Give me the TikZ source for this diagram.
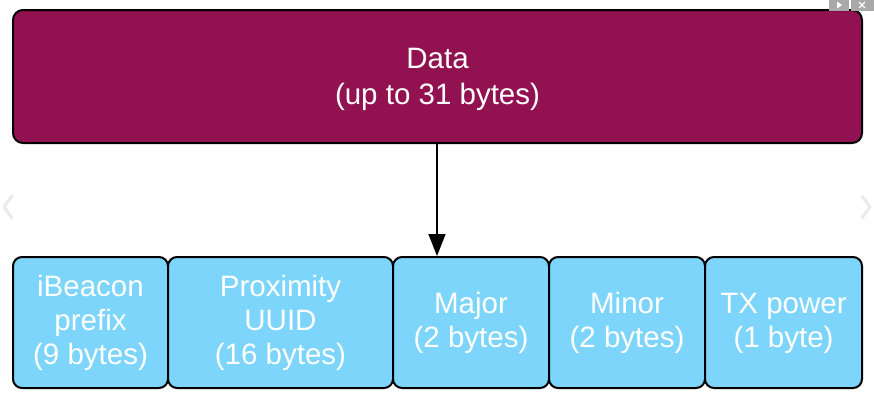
\documentclass[tikz,border=0pt]{standalone}
\usepackage{fontspec}
\setmainfont{Liberation Sans}
\usetikzlibrary{arrows.meta}
\definecolor{topfill}{HTML}{921150}
\definecolor{cellfill}{HTML}{7DD5FB}
\definecolor{uigray}{HTML}{A9A9A9}
\begin{document}
\begin{tikzpicture}[x=1pt,y=-1pt,
  topbox/.style={draw=black,line width=2pt,fill=topfill,rounded corners=10pt},
  cellbox/.style={draw=black,line width=2pt,fill=cellfill,rounded corners=9pt},
  toptext/.style={text=white,align=center,font=\fontsize{29.5}{36}\selectfont},
  celltext/.style={text=white,align=center,font=\fontsize{29.5}{34}\selectfont},
  conn/.style={line width=1.6pt,-{Triangle[length=22pt,width=17pt]}},
  chev/.style={draw=black!8,line width=3pt,line cap=round,line join=round}]
\useasboundingbox (0,0) rectangle (874,402);
% top data box
\path[topbox] (13,10) rectangle (862,143);
\node[toptext] (data) at (437.5,79) {Data\\(up to 31 bytes)};
% cells
\path[cellbox] (13,257) rectangle (168,388);
\path[cellbox] (168,257) rectangle (393,388);
\path[cellbox] (393,257) rectangle (549,388);
\path[cellbox] (549,257) rectangle (705,388);
\path[cellbox] (705,257) rectangle (862,388);
\node[celltext] (c1) at (90.5,323) {iBeacon\\prefix\\(9 bytes)};
\node[celltext] (c2) at (280.5,323) {Proximity\\UUID\\(16 bytes)};
\node[celltext] (c3) at (471,323) {Major\\(2 bytes)};
\node[celltext] (c4) at (627,323) {Minor\\(2 bytes)};
\node[celltext] (c5) at (783.5,323) {TX power\\(1 byte)};
% connector
\coordinate (a0) at (437,144);
\coordinate (a1) at (437,256);
\draw[conn] (a0) -- (a1);
% faint slideshow chevrons
\draw[chev] (12,196) -- (4,207) -- (12,218);
\draw[chev] (862,196) -- (870,207) -- (862,218);
% top-right ui buttons
\fill[uigray] (829,0) rectangle (849,11);
\fill[uigray] (851,0) rectangle (874,11);
\fill[white] (837,1.5) -- (842,5) -- (837,8.5) -- cycle;
\draw[white,line width=1.2pt] (859,2) -- (865,8) (865,2) -- (859,8);
\end{tikzpicture}
\end{document}
